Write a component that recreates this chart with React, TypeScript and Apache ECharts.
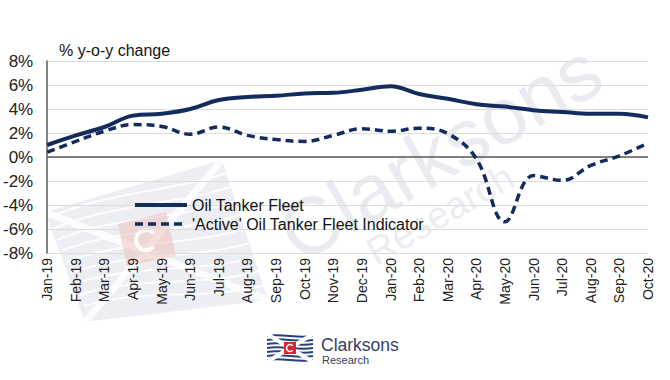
import React, { useEffect, useRef } from "react";
import * as echarts from "echarts";

const months = ["Jan-19","Feb-19","Mar-19","Apr-19","May-19","Jun-19","Jul-19","Aug-19","Sep-19","Oct-19","Nov-19","Dec-19","Jan-20","Feb-20","Mar-20","Apr-20","May-20","Jun-20","Jul-20","Aug-20","Sep-20","Oct-20"];
const fleet = [1.0, 1.8, 2.5, 3.45, 3.6, 4.0, 4.75, 5.0, 5.1, 5.3, 5.35, 5.6, 5.9, 5.25, 4.85, 4.4, 4.2, 3.9, 3.75, 3.6, 3.6, 3.3];
const active = [0.4, 1.3, 2.15, 2.7, 2.55, 1.9, 2.5, 1.8, 1.45, 1.3, 1.8, 2.35, 2.15, 2.4, 1.95, -0.15, -5.4, -1.55, -1.95, -0.7, 0.1, 1.15];
const seriesNames = ["Oil Tanker Fleet", "'Active' Oil Tanker Fleet Indicator"];

const NAVY = "#142b5e";
const FONT = "Liberation Sans, Arial, sans-serif";

function wave(x0: number, y0: number, w: number, amp: number, color: string, width: number, dy = 0) {
  return {
    type: "bezierCurve",
    silent: true,
    shape: { x1: x0, y1: y0, x2: x0 + w, y2: y0 + dy, cpx1: x0 + w * 0.33, cpy1: y0 - amp + dy * 0.33, cpx2: x0 + w * 0.66, cpy2: y0 + amp + dy * 0.66 },
    style: { stroke: color, lineWidth: width, fill: null },
  };
}

export default function App() {
  const ref = useRef<HTMLDivElement>(null);
  useEffect(() => {
    if (!ref.current) return;
    const chart = echarts.init(ref.current, null, { renderer: "svg" });
    const bigFlag: any[] = [
      { type: "polygon", silent: true, shape: { points: [[45, 212], [222, 160], [268, 300], [85, 322]] }, style: { fill: "rgba(205,210,226,0.38)" } },
    ];
    for (let i = 0; i < 9; i++) {
      bigFlag.push(wave(48 + i * 4.5, 218 + i * 11, 205 - i * 2, 12, "rgba(255,255,255,0.85)", 2, -55 + i * 4));
    }
    bigFlag.push({ type: "line", silent: true, shape: { x1: 45, y1: 212, x2: 268, y2: 300 }, style: { stroke: "rgba(255,255,255,0.8)", lineWidth: 7 } });
    bigFlag.push({ type: "line", silent: true, shape: { x1: 222, y1: 160, x2: 85, y2: 322 }, style: { stroke: "rgba(255,255,255,0.8)", lineWidth: 7 } });
    bigFlag.push({ type: "polygon", silent: true, shape: { points: [[118, 224], [166, 212], [176, 256], [127, 266]] }, style: { fill: "rgba(238,175,165,0.4)" } });
    bigFlag.push({ type: "arc", silent: true, shape: { cx: 146, cy: 240, r: 10, startAngle: 0.7, endAngle: 5.6 }, style: { stroke: "rgba(255,255,255,0.85)", lineWidth: 4, fill: null } });

    const logoWaves: any[] = [];
    for (let i = 0; i < 7; i++) {
      logoWaves.push(wave(0, 2 + i * 4, 46, 3, "#27407e", 2));
    }
    const legendLine = (name: string, w: number) => ({ name, lineStyle: { width: w } });
    chart.setOption({
      animation: false,
      textStyle: { fontFamily: FONT },
      grid: { left: 46, right: 22, top: 61, bottom: 127 },
      legend: {
        orient: "vertical",
        left: 128,
        top: 192,
        itemWidth: 52,
        itemHeight: 10,
        itemGap: 3,
        data: [legendLine(seriesNames[0], 4), legendLine(seriesNames[1], 3.5)],
        itemStyle: { opacity: 0 },
        textStyle: { fontSize: 16, color: "#111", fontFamily: FONT },
      },
      xAxis: {
        type: "category",
        data: months,
        boundaryGap: false,
        axisLine: { show: false },
        axisTick: { show: false },
        axisLabel: { rotate: 90, fontSize: 14, color: "#222", margin: 5, interval: 0 },
      },
      yAxis: {
        type: "value",
        min: -8,
        max: 8,
        interval: 2,
        axisLine: { show: true, lineStyle: { color: "#5a5a5a", width: 1.5 } },
        axisTick: { show: false },
        axisLabel: { formatter: (v: number) => `${v}%`, fontSize: 17, color: "#222", margin: 14 },
        splitLine: { lineStyle: { color: "#dcdcdc", width: 1 } },
      },
      graphic: [
        ...bigFlag.map((g) => ({ ...g, z: -10 })),
        { type: "text", silent: true, z: -8, x: 440, y: 152, rotation: 0.52, style: { text: "Clarksons", font: `80px ${FONT}`, fill: "rgba(185,190,210,0.3)", align: "center", verticalAlign: "middle" } },
        { type: "text", silent: true, z: -8, x: 440, y: 214, rotation: 0.52, style: { text: "Research", font: `38px ${FONT}`, fill: "rgba(185,190,210,0.3)", align: "center", verticalAlign: "middle" } },
        { type: "text", x: 59, y: 42, style: { text: "% y-o-y change", font: `16px ${FONT}`, fill: "#111" } },
        {
          type: "group",
          x: 267,
          y: 334,
          children: [
            ...logoWaves,
            { type: "line", shape: { x1: 0, y1: 0, x2: 46, y2: 28 }, style: { stroke: "#fff", lineWidth: 4 } },
            { type: "line", shape: { x1: 46, y1: 0, x2: 0, y2: 28 }, style: { stroke: "#fff", lineWidth: 4 } },
            { type: "rect", shape: { x: 17, y: 8, width: 12, height: 12 }, style: { fill: "#d7262d" } },
            { type: "arc", shape: { cx: 23, cy: 14, r: 3.5, startAngle: 0.7, endAngle: 5.6 }, style: { stroke: "#fff", lineWidth: 1.5, fill: null } },
          ],
        },
        { type: "text", x: 321, y: 345, style: { text: "Clarksons", font: `17.5px ${FONT}`, fill: "#34405f", verticalAlign: "middle" } },
        { type: "text", x: 322, y: 360, style: { text: "Research", font: `11px ${FONT}`, fill: "#34405f", verticalAlign: "middle" } },
      ],
      series: [
        {
          name: seriesNames[0],
          type: "line",
          data: fleet,
          smooth: 0.4,
          showSymbol: false,
          symbol: "none",
          z: 3,
          lineStyle: { color: NAVY, width: 4 },
          itemStyle: { color: NAVY },
          markLine: {
            silent: true,
            symbol: "none",
            label: { show: false },
            lineStyle: { color: "#5a5a5a", width: 1.5, type: "solid" },
            data: [{ yAxis: 0 }],
            z: 1,
          },
        },
        {
          name: seriesNames[1],
          type: "line",
          data: active,
          smooth: 0.4,
          showSymbol: false,
          symbol: "none",
          z: 3,
          lineStyle: { color: NAVY, width: 3.5, type: [8, 5] },
          itemStyle: { color: NAVY },
        },
      ],
    });
    return () => chart.dispose();
  }, []);
  return <div ref={ref} style={{ width: 670, height: 380, position: "absolute", left: 0, top: 0, background: "#fff" }} />;
}
